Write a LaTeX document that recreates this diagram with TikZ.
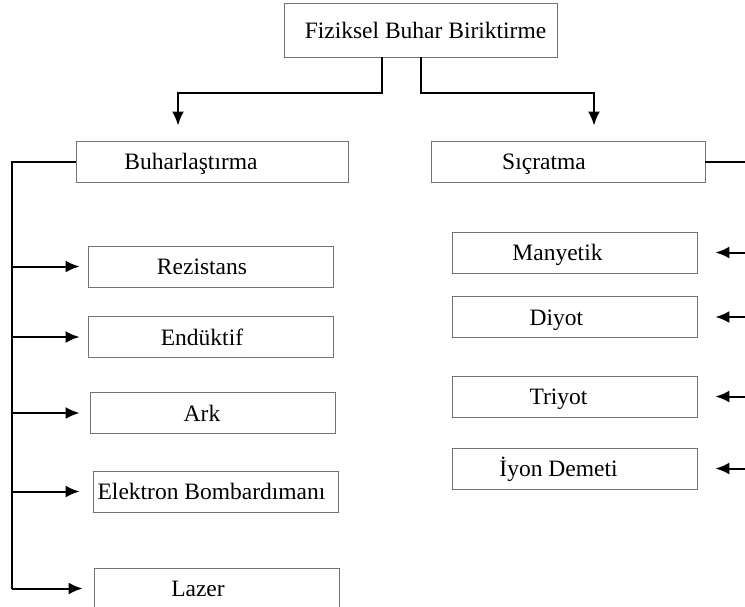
\documentclass[tikz,border=0pt]{standalone}
\usepackage{fontspec}
\setmainfont{Liberation Serif}
\usetikzlibrary{arrows.meta}
\usetikzlibrary{calc}
\tikzset{>={Latex[length=14pt,width=12pt]}}
\colorlet{boxcol}{black!55}
\tikzset{
  box/.style={draw=boxcol,line width=0.9pt,minimum width=#1,minimum height=41pt,inner sep=0pt},
  box/.default=245pt,
  txt/.style={font=\fontsize{23.5}{27}\selectfont,text height=16pt,text depth=0pt,xshift=#1},
  txt/.default=0pt,
  link/.style={line width=2pt,->}}

\begin{document}
\begin{tikzpicture}[x=1pt,y=-1pt]
  \def\xl{12}   % left spine
  \def\xr{752}  % right spine, off the page
  \useasboundingbox (0,0) rectangle (745,606);

  % BOXES
  \node[box=273pt,minimum height=54pt,label={[txt=5pt]center:Fiziksel Buhar Biriktirme}] (pvd) at (420.5,30) {};
  \node[box=272pt,label={[txt=-21pt]center:Buharlaştırma}] (buhar) at (212,161.5) {};
  \node[box=274pt,label={[txt=-24pt]center:Sıçratma}] (sicr) at (568,161.5) {};
  \node[box,label={[txt=-8.5pt]center:Rezistans}] (rez) at (210.5,266.5) {};
  \node[box,label={[txt=-8.5pt]center:Endüktif}] (enduk) at (210.5,337) {};
  \node[box,label={[txt=-10.5pt]center:Ark}] (ark) at (212.5,413) {};
  \node[box,label={[txt=-4pt]center:Elektron Bombardımanı}] (elek) at (215.5,491.5) {};
  \node[box,label={[txt=-18.5pt]center:Lazer}] (lazer) at (216.5,588.5) {};
  \node[box,label={[txt=-17pt]center:Manyetik}] (many) at (574.5,252.5) {};
  \node[box,label={[txt=-18pt]center:Diyot}] (diyot) at (574.5,317) {};
  \node[box,label={[txt=-16pt]center:Triyot}] (triyot) at (574.5,396.5) {};
  \node[box,label={[txt=-16pt]center:İyon Demeti}] (iyon) at (574.5,468.5) {};

  % TOP LINKS
  \coordinate (kL) at (178,93);
  \coordinate (kR) at (594,93);
  \draw[link,shorten >=15pt] ([xshift=-38.5pt]pvd.south) |- (kL) -- (kL |- buhar.north);
  \draw[link,shorten >=15pt] ([xshift=0.5pt]pvd.south) |- (kR) -- (kR |- sicr.north);

  % LEFT BRANCH
  \coordinate (sL) at (\xl,161.5);
  \draw[line width=2pt] (buhar.west) -- (sL) -- (sL |- lazer.west);
  \foreach \n/\s in {rez/8pt,enduk/8pt,ark/10pt,elek/13pt,lazer/11pt}
    \draw[link,shorten >=\s] (sL |- \n.west) -- (\n.west);

  % RIGHT BRANCH
  \coordinate (sR) at (\xr,161.5);
  \draw[line width=2pt] (sicr.east) -- (sR) -- (sR |- iyon.east);
  \foreach \n in {many,diyot,triyot,iyon}
    \draw[link,shorten >=18pt] (sR |- \n.east) -- (\n.east);
\end{tikzpicture}
\end{document}
